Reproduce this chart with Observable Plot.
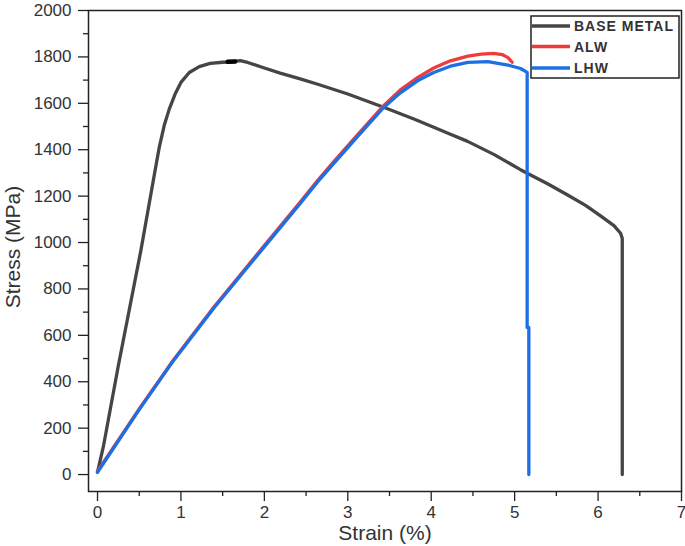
<!DOCTYPE html>
<html>
<head>
<meta charset="utf-8">
<script src="https://cdn.jsdelivr.net/npm/d3@7"></script>
<script src="https://cdn.jsdelivr.net/npm/@observablehq/plot@0.6"></script>
<style>
  html, body { margin: 0; padding: 0; background: #fff; }
  #chart svg { display: block; }
</style>
</head>
<body>
<div id="chart"></div>
<script>
// ---- Data ----
const seriesNames = ["BASE METAL", "ALW", "LHW"];
const seriesColors = ["#454545", "#ef3b3b", "#1d6fe4"];

const baseStrain = [0, 0.07, 0.25, 0.52, 0.68, 0.74, 0.80, 0.86, 0.93, 1.00, 1.10, 1.22, 1.35, 1.50, 1.60, 1.71, 1.80, 2.00, 2.19, 2.43, 2.64, 3.00, 3.43, 3.80, 4.03, 4.23, 4.43, 4.75, 5.07, 5.40, 5.63, 5.85, 6.03, 6.19, 6.27, 6.29, 6.29];
const baseStress = [10, 120, 470, 966, 1290, 1410, 1505, 1575, 1640, 1690, 1733, 1758, 1772, 1777, 1779, 1784, 1776, 1752, 1730, 1705, 1682, 1640, 1583, 1531, 1497, 1467, 1437, 1380, 1314, 1252, 1206, 1160, 1115, 1073, 1040, 1017, 0];

const alwStrain = [0, 0.5, 0.91, 1.40, 1.92, 2.43, 2.64, 2.83, 3.10, 3.43, 3.63, 3.84, 4.03, 4.23, 4.44, 4.60, 4.75, 4.85, 4.92, 4.97];
const alwStress = [15, 283, 494, 724, 952, 1174, 1268, 1348, 1458, 1590, 1658, 1712, 1752, 1783, 1803, 1812, 1815, 1810, 1797, 1777];

const lhwStrain = [0, 0.5, 0.91, 1.40, 1.92, 2.43, 2.64, 2.83, 3.10, 3.43, 3.63, 3.84, 4.03, 4.23, 4.44, 4.68, 4.92, 5.07, 5.15, 5.15, 5.17, 5.17];
const lhwStress = [10, 280, 491, 720, 947, 1168, 1262, 1340, 1450, 1582, 1645, 1698, 1733, 1760, 1776, 1780, 1765, 1750, 1733, 634, 634, 0];

// small black blob on the base-metal curve
const markStrain = [1.56, 1.65];
const markStress = [1779, 1780];

const xTicks = [0, 1, 2, 3, 4, 5, 6, 7];
const xMinorTicks = [0.5, 1.5, 2.5, 3.5, 4.5, 5.5, 6.5];
const yTicks = [0, 200, 400, 600, 800, 1000, 1200, 1400, 1600, 1800, 2000];
const yMinorTicks = [100, 300, 500, 700, 900, 1100, 1300, 1500, 1700, 1900];

const xTitle = "Strain (%)";
const yTitle = "Stress (MPa)";

// ---- Build tables ----
const toRows = (xs, ys) => xs.map((x, i) => ({strain: x, stress: ys[i]}));
const baseRows = toRows(baseStrain, baseStress);
const alwRows = toRows(alwStrain, alwStress);
const lhwRows = toRows(lhwStrain, lhwStress);
const markRows = toRows(markStrain, markStress);

const lineW = 3.3;

const chart = Plot.plot({
  width: 685,
  height: 546,
  marginLeft: 88,
  marginRight: 4,
  marginTop: 10,
  marginBottom: 55,
  x: {domain: [-0.108, 7], label: null},
  y: {domain: [-73, 2000], label: null},
  style: {
    fontFamily: "'Liberation Sans', Arial, sans-serif",
    fontSize: "17px",
    color: "#222",
    background: "#fff"
  },
  marks: [
    Plot.line(baseRows, {x: "strain", y: "stress", stroke: seriesColors[0], strokeWidth: lineW, strokeLinejoin: "round"}),
    Plot.line(markRows, {x: "strain", y: "stress", stroke: "#000", strokeWidth: 4.5}),
    Plot.line(alwRows, {x: "strain", y: "stress", stroke: seriesColors[1], strokeWidth: lineW, strokeLinejoin: "round"}),
    Plot.line(lhwRows, {x: "strain", y: "stress", stroke: seriesColors[2], strokeWidth: lineW, strokeLinejoin: "round"}),
    Plot.axisY(yTicks, {anchor: "left", tickSize: 10, tickPadding: 7, strokeWidth: 1.3, label: null, fill: "#333", tickFormat: d => String(d)}),
    Plot.axisY(yMinorTicks, {anchor: "left", tickSize: 5, strokeWidth: 1.3, tickFormat: () => "", label: null}),
    Plot.axisX(xTicks, {anchor: "bottom", tickSize: 10, tickPadding: 4, strokeWidth: 1.3, label: null, fill: "#333", tickFormat: d => String(d)}),
    Plot.axisX(xMinorTicks, {anchor: "bottom", tickSize: 5, strokeWidth: 1.3, tickFormat: () => "", label: null}),
    Plot.frame({stroke: "#222", strokeWidth: 1.5})
  ]
});

document.getElementById("chart").appendChild(chart);

// ---- Axis titles & legend ----
const svg = d3.select(chart);
const font = "'Liberation Sans', Arial, sans-serif";

svg.append("text")
  .attr("transform", "translate(13,247) rotate(-90)")
  .attr("text-anchor", "middle")
  .attr("dy", "0.35em")
  .attr("font-family", font)
  .attr("font-size", 21)
  .attr("fill", "#333")
  .text(yTitle);

svg.append("text")
  .attr("x", 385)
  .attr("y", 540)
  .attr("text-anchor", "middle")
  .attr("font-family", font)
  .attr("font-size", 21)
  .attr("fill", "#333")
  .text(xTitle);

const lg = svg.append("g");
lg.append("rect")
  .attr("x", 531).attr("y", 16)
  .attr("width", 148).attr("height", 62)
  .attr("fill", "#fff")
  .attr("stroke", "#222")
  .attr("stroke-width", 1.5);

const rowY = [26, 46.5, 68];
seriesNames.forEach((name, i) => {
  lg.append("line")
    .attr("x1", 532).attr("x2", 570)
    .attr("y1", rowY[i]).attr("y2", rowY[i])
    .attr("stroke", seriesColors[i])
    .attr("stroke-width", 3.6);
  lg.append("text")
    .attr("x", 574)
    .attr("y", rowY[i])
    .attr("dy", "0.36em")
    .attr("text-anchor", "start")
    .attr("font-family", font)
    .attr("font-weight", "bold")
    .attr("font-size", 14)
    .attr("letter-spacing", 1)
    .attr("fill", "#333")
    .text(name);
});
</script>
</body>
</html>
